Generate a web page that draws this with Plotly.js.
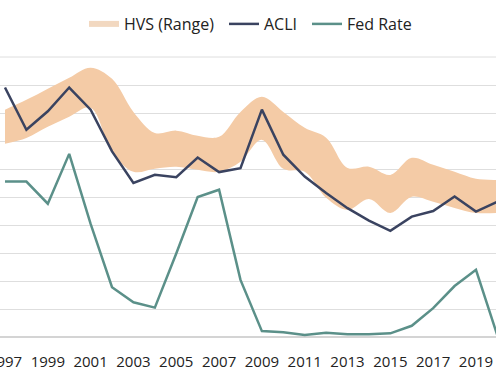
<!DOCTYPE html>
<html>
<head>
<meta charset="utf-8">
<script src="https://cdn.plot.ly/plotly-3.0.1.min.js"></script>
<style>html,body{margin:0;padding:0;background:#fff;}#chart{width:496px;height:380px;}</style>
</head>
<body>
<div id="chart"></div>
<script>
const years = [1997,1998,1999,2000,2001,2002,2003,2004,2005,2006,2007,2008,2009,2010,2011,2012,2013,2014,2015,2016,2017,2018,2019,2020];
const hvsHigh = [8.12,8.47,8.87,9.26,9.62,9.22,8.04,7.29,7.37,7.19,7.15,8.04,8.58,8.04,7.47,7.12,6.04,6.08,5.79,6.40,6.15,5.90,5.65,5.61];
const hvsLow  = [6.90,7.11,7.51,7.87,8.19,6.61,5.90,6.01,6.08,5.97,5.90,6.26,7.04,6.01,5.90,4.97,4.54,4.93,4.43,5.01,4.83,4.61,4.43,4.43];
const acli    = [8.91,7.40,8.06,8.91,8.12,6.63,5.50,5.79,5.71,6.41,5.89,6.03,8.12,6.51,5.73,5.14,4.60,4.16,3.79,4.30,4.50,5.02,4.48,4.83];
const fedRate = [5.55,5.55,4.76,6.54,4.04,1.78,1.24,1.05,2.98,5.00,5.26,2.04,0.21,0.17,0.07,0.15,0.10,0.10,0.13,0.40,1.03,1.82,2.40,0.05];

const bandColor = '#f4cba6';
const traces = [
  {x:[1990], y:[5], mode:'lines', name:'HVS (Range)', legend:'legend', line:{color:'#f2d8c0', width:6}, hoverinfo:'skip'},
  {x:years, y:hvsLow, mode:'lines', line:{width:0, shape:'spline', color:bandColor}, showlegend:false, hoverinfo:'skip'},
  {x:years, y:hvsHigh, mode:'lines', line:{width:0, shape:'spline', color:bandColor}, fill:'tonexty', fillcolor:bandColor, showlegend:false, hoverinfo:'skip'},
  {x:years, y:acli, mode:'lines', name:'ACLI', legend:'legend2', line:{color:'#3a4360', width:2.5}},
  {x:years, y:fedRate, mode:'lines', name:'Fed Rate', legend:'legend3', line:{color:'#5b9089', width:2.5}}
];

function legC(px){
  return {orientation:'h', x:px/496, xanchor:'left', y:1 - 24/380, yref:'container', yanchor:'middle',
          font:{size:16, color:'#222'}, itemwidth:30, bgcolor:'rgba(0,0,0,0)', borderwidth:0};
}

const layout = {
  width:496, height:380,
  margin:{l:0, r:0, t:56, b:43, autoexpand:false},
  paper_bgcolor:'#fff', plot_bgcolor:'#fff',
  font:{family:'"Open Sans", sans-serif', size:15, color:'#222'},
  showlegend:true,
  legend:legC(84), legend2:legC(224), legend3:legC(307),
  xaxis:{range:[1996.767, 2019.935], tickmode:'linear', tick0:1997, dtick:2, showgrid:false, zeroline:false, automargin:false,
         showline:false, ticks:'', tickfont:{size:15, color:'#222'}, ticklabelstandoff:14, ticklabeloverflow:'allow', fixedrange:true},
  yaxis:{range:[0, 281/28], tickmode:'linear', tick0:0, dtick:1, showgrid:true, gridcolor:'#dedede', gridwidth:1,
         zeroline:true, zerolinecolor:'#d4d4d4', zerolinewidth:1.5, showline:false, showticklabels:false, ticks:'', automargin:false, fixedrange:true},
  shapes:[{type:'line', xref:'paper', x0:0, x1:1, yref:'y', y0:10, y1:10, line:{color:'#dedede', width:1}, layer:'below'}]
};

Plotly.newPlot('chart', traces, layout, {displayModeBar:false, staticPlot:true});
</script>
</body>
</html>
